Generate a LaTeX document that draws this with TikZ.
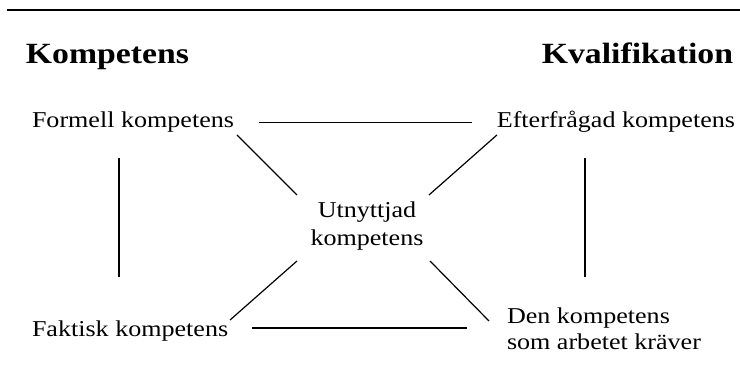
\documentclass[tikz,border=0pt]{standalone}
\usepackage{fontspec}
\setmainfont{Liberation Serif}[FakeStretch=1.15]
\begin{document}
\begin{tikzpicture}[x=0.75pt,y=-0.75pt,
  lbl/.style={inner sep=0pt, outer sep=0pt, font=\fontsize{17}{21}\selectfont},
  one/.style={lbl, text height=11.6pt, text depth=3.7pt},
  head/.style={inner sep=0pt, outer sep=0pt, font=\fontsize{22}{26}\selectfont\bfseries},
  link/.style={line width=0.9pt}]
  \useasboundingbox (0,0) rectangle (740,391);

  % top rule
  \coordinate (ruleL) at (7,10);
  \coordinate (ruleR) at (740,10);
  \draw[line width=1.1pt] (ruleL) -- (ruleR);

  % headings
  \node[head, anchor=base west] (hk) at (26,64) {Kompetens};
  \node[head, anchor=base east] (hq) at (733,64) {Kvalifikation};

  % corner labels
  \node[one, anchor=base west] (F) at (32,128) {\makebox[151.5pt][l]{Formell kompetens}};
  \node[one, anchor=base east] (E) at (735,128) {\makebox[176.25pt][r]{Efterfrågad kompetens}};
  \node[one, anchor=base west] (Fk) at (32,337) {\makebox[147pt][l]{Faktisk kompetens}};
  \node[lbl, anchor=north west, align=left,
        font=\fontsize{17}{19.5}\selectfont] (D) at (507,307.8)
        {Den kompetens\\som arbetet kräver};

  % centre label
  \node[lbl, align=center] (U) at (367,225.7) {Utnyttjad\\kompetens};

  % horizontal links
  \draw[link] ([xshift=25*0.75pt]F.east) -- ([xshift=-28*0.75pt]E.west);
  \draw[link] ([shift={(24,-3.7)}]Fk.east) -- ([shift={(-40,-3.7)}]Fk.east -| D.west);

  % vertical links
  \draw[link] ([shift={(87,25.07)}]F.south west) -- ([shift={(87,-44.53)}]Fk.north west);
  \draw[link] ([shift={(85,25.07)}]E.south west) -- ([shift={(85,-44.53)}]E.south west |- Fk.north west);

  % diagonal links to the centre
  \draw[link] ([shift={(3,2)}]F.south east) -- ([shift={(-70,-30.7)}]U.center);
  \draw[link] ([shift={(-3,2)}]E.south west) -- ([shift={(62,-30.7)}]U.center);
  \draw[link] ([shift={(-70,35.3)}]U.center) -- ([shift={(2,-1.5)}]Fk.north east);
  \draw[link] ([shift={(63,35.3)}]U.center) -- ([shift={(-18,13.2)}]D.north west);
\end{tikzpicture}
\end{document}
